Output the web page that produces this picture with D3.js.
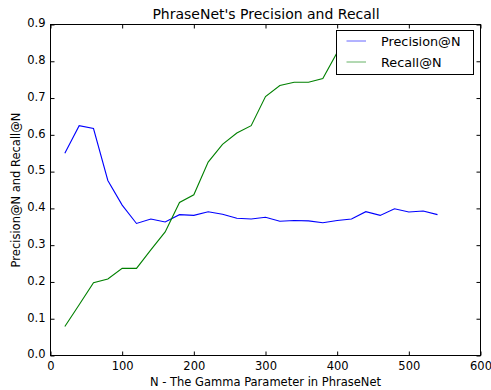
<!DOCTYPE html>
<html><head><meta charset="utf-8">
<script src="https://cdn.jsdelivr.net/npm/d3@7"></script>
<style>body{margin:0;background:#fff;} svg{display:block;} text{font-family:"DejaVu Sans",sans-serif;fill:#000;}</style>
</head><body>
<svg id="c" width="491" height="390"></svg>
<script>
const nValues = [20,40,60,80,100,120,140,160,180,200,220,240,260,280,300,320,340,360,380,400,420,440,460,480,500,520,540];
const precision = [0.550,0.625,0.617,0.476,0.409,0.359,0.371,0.363,0.383,0.381,0.391,0.384,0.373,0.371,0.376,0.365,0.367,0.366,0.361,0.367,0.371,0.391,0.381,0.399,0.390,0.393,0.383];
const recall = [0.079,0.138,0.198,0.208,0.237,0.237,0.287,0.336,0.416,0.437,0.526,0.574,0.605,0.625,0.704,0.734,0.743,0.743,0.753,0.824,0.840,0.850,0.860,0.865,0.870,0.875,0.880];
const xTicks = [0,100,200,300,400,500,600];
const yTicks = [0,0.1,0.2,0.3,0.4,0.5,0.6,0.7,0.8,0.9];
const seriesNames = ["Precision@N","Recall@N"];
const seriesColors = ["#0000ff","#008000"];

const L=50.5,R=480.5,T=24.5,B=355.5;
const svg=d3.select("#c");
const x=d3.scaleLinear().domain([0,600]).range([L,R]);
const y=d3.scaleLinear().domain([0,0.9]).range([B,T]);

const lineLayer=svg.append("g");
const line=d3.line().x((d,i)=>x(nValues[i])).y(d=>y(d));
[precision,recall].forEach((s,k)=>{
  lineLayer.append("path").datum(s).attr("d",line).attr("fill","none")
    .attr("stroke",seriesColors[k]).attr("stroke-width",1.1);
});

// axes
const fs="11.5px";
svg.append("g").attr("transform",`translate(0,${B})`)
  .call(d3.axisBottom(x).tickValues(xTicks).tickSize(-4).tickPadding(6.5).tickFormat(d3.format("d")))
  .call(g=>{g.select(".domain").remove();g.selectAll("text").style("font-size",fs).attr("font-family","DejaVu Sans");});
svg.append("g").attr("transform",`translate(0,${T})`)
  .call(d3.axisTop(x).tickValues(xTicks).tickSize(-4).tickFormat(""))
  .call(g=>g.select(".domain").remove());
svg.append("g").attr("transform",`translate(${L},0)`)
  .call(d3.axisLeft(y).tickValues(yTicks).tickSize(-4).tickPadding(5).tickFormat(d3.format(".1f")))
  .call(g=>{g.select(".domain").remove();g.selectAll("text").style("font-size",fs).attr("font-family","DejaVu Sans").attr("dy","0.2em");});
svg.append("g").attr("transform",`translate(${R},0)`)
  .call(d3.axisRight(y).tickValues(yTicks).tickSize(-4).tickFormat(""))
  .call(g=>g.select(".domain").remove());
svg.append("rect").attr("x",L).attr("y",T).attr("width",R-L).attr("height",B-T)
  .attr("fill","none").attr("stroke","#000").attr("stroke-width",1);

// legend (drawn on top, opaque)
const lg=svg.append("g").attr("class","legend");
lg.append("rect").attr("x",336.5).attr("y",30.5).attr("width",137).attr("height",44)
  .attr("fill","#ffffff").attr("fill-opacity",1).attr("stroke","#000").attr("stroke-width",1);
seriesNames.forEach((n,k)=>{
  const yy=41+k*21;
  lg.append("line").attr("x1",346.5).attr("x2",366).attr("y1",yy).attr("y2",yy)
    .attr("stroke",seriesColors[k]).attr("stroke-width",1).attr("stroke-opacity",0.6);
  lg.append("text").attr("x",381).attr("y",yy+4.8).style("font-size","12.8px").text(n);
});
lg.raise();

svg.append("text").attr("x",266).attr("y",18.5).attr("text-anchor","middle").style("font-size","14px")
  .text("PhraseNet's Precision and Recall");
svg.append("text").attr("x",265.5).attr("y",386).attr("text-anchor","middle").style("font-size","11.5px")
  .text("N - The Gamma Parameter in PhraseNet");
svg.append("text").attr("transform",`translate(19.5,${(T+B)/2}) rotate(-90)`).attr("text-anchor","middle").style("font-size","11.5px")
  .text("Precision@N and Recall@N");
</script>
</body></html>
